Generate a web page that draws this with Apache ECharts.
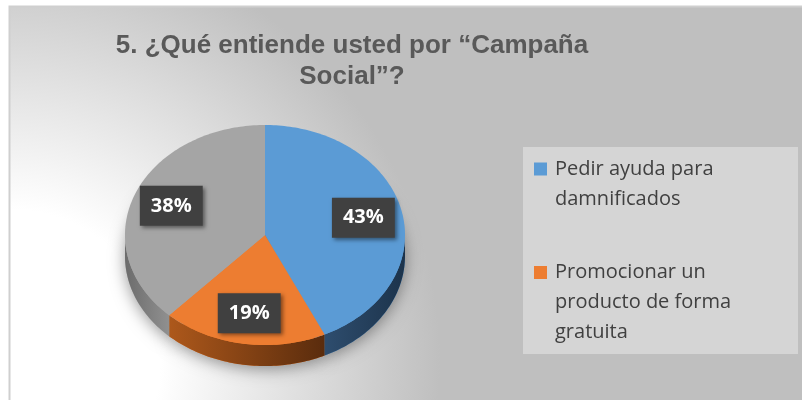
<!DOCTYPE html>
<html lang="es">
<head>
<meta charset="UTF-8">
<title>Campaña Social</title>
<style>
  html, body { margin: 0; padding: 0; background: #fff; }
  #chart { width: 802px; height: 400px; }
</style>
</head>
<body>
<div id="chart"></div>
<script src="https://cdn.jsdelivr.net/npm/echarts@6/dist/echarts.min.js"></script>
<script>
// datos de la encuesta
const categorias = ['Pedir ayuda para damnificados', 'Promocionar un producto de forma gratuita', 'Otros'];
const valores = [43, 19, 38];
// texto de la leyenda con los cortes de línea del original
const textosLeyenda = ['Pedir ayuda para\ndamnificados', 'Promocionar un\nproducto de forma\ngratuita'];
const enLeyenda = [0, 1]; // el tercer elemento no se ve en la leyenda

const coloresTapa = ['#5b9bd5', '#ed7d31', '#a5a5a5'];
const coloresLado = [['#2e4d6e', '#1c334b'], ['#ad581b', '#5a2c0d'], ['#6c6c6c', '#909090']];

// geometría de la tarta "3D": elipse superior + grosor
const CX = 265, CY = 235, RX = 140, RY = 110, GROSOR = 21;

const total = valores.reduce((a, b) => a + b, 0);
const acumulado = valores.map((v, i) => valores.slice(0, i).reduce((a, b) => a + b, 0));

var chart = echarts.init(document.getElementById('chart'));

function punto(a, dy) {
  return [CX + RX * Math.sin(a), CY - RY * Math.cos(a) + (dy || 0)];
}
function arco(a0, a1, dy) {
  const n = Math.max(2, Math.ceil((a1 - a0) / 0.02));
  const pts = [];
  for (let k = 0; k <= n; k++) pts.push(punto(a0 + (a1 - a0) * k / n, dy));
  return pts;
}

function dibujarPorcion(params, api) {
  const i = params.seriesIndex;
  const v = api.value(0), ini = api.value(1);
  const a0 = ini / total * Math.PI * 2;
  const a1 = (ini + v) / total * Math.PI * 2;
  const hijos = [];
  // sombra difusa bajo la porción
  hijos.push({
    type: 'polygon', z2: 0,
    shape: { points: [[CX, CY + GROSOR]].concat(arco(a0, a1, GROSOR)) },
    style: { fill: coloresTapa[i], shadowBlur: 16, shadowColor: 'rgba(0,0,0,0.4)', shadowOffsetY: 3 }
  });
  // lateral visible (mitad delantera)
  const s0 = Math.max(a0, Math.PI / 2), s1 = Math.min(a1, Math.PI * 1.5);
  if (s1 > s0) {
    const lado = arco(s0, s1, 0).concat(arco(s0, s1, GROSOR).reverse());
    hijos.push({
      type: 'polygon', z2: 1,
      shape: { points: lado },
      style: {
        fill: new echarts.graphic.LinearGradient(0, 0, 1, 0, [
          { offset: 0, color: coloresLado[i][0] },
          { offset: 1, color: coloresLado[i][1] }
        ])
      }
    });
  }
  // cara superior
  hijos.push({
    type: 'polygon', z2: 2,
    shape: { points: [[CX, CY]].concat(arco(a0, a1, 0)) },
    style: { fill: api.visual('color') }
  });
  // etiqueta de porcentaje
  const m = (a0 + a1) / 2;
  hijos.push({
    type: 'text', z2: 3,
    x: CX + RX * 0.72 * Math.sin(m),
    y: CY - RY * 0.72 * Math.cos(m),
    style: {
      text: Math.round(v / total * 100) + '%',
      fill: '#fff',
      font: 'bold 20px "Open Sans"',
      align: 'center', verticalAlign: 'middle',
      backgroundColor: '#404040', padding: [10, 11],
      shadowBlur: 4, shadowColor: 'rgba(0,0,0,0.45)', shadowOffsetX: 2, shadowOffsetY: 2
    }
  });
  return { type: 'group', children: hijos };
}

const option = {
  animation: false,
  color: coloresTapa,
  title: {
    text: '5. ¿Qué entiende usted por “Campaña\nSocial”?',
    left: 352, top: 30, padding: 0,
    textAlign: 'center',
    textStyle: { fontFamily: 'Liberation Sans', fontWeight: 'bold', fontSize: 26, lineHeight: 31, color: '#595959' }
  },
  legend: {
    data: enLeyenda.map(i => categorias[i]),
    orient: 'vertical',
    left: 534, top: 124, padding: 0,
    itemWidth: 13, itemHeight: 13, itemGap: -16.5,
    icon: 'rect',
    selectedMode: false,
    // líneas vacías delante para que el icono quede a la altura de la primera línea
    formatter: function (name) {
      const t = textosLeyenda[categorias.indexOf(name)];
      return '\n'.repeat(t.split('\n').length - 1) + t;
    },
    textStyle: { fontFamily: 'Open Sans', fontSize: 20, lineHeight: 30, color: '#404040', padding: [0, 0, 0, 3] }
  },
  graphic: [
    {
      type: 'rect', z: -10, silent: true,
      shape: { x: 9.5, y: 6.5, width: 820, height: 420 },
      style: {
        fill: { type: 'radial', x: 10, y: 360, r: 430, global: true,
          colorStops: [{ offset: 0, color: '#ffffff' }, { offset: 0.35, color: '#ffffff' }, { offset: 1, color: '#bfbfbf' }] },
        stroke: '#cfcfcf', lineWidth: 2
      }
    },
    {
      type: 'rect', z: -5, silent: true,
      shape: { x: 523, y: 147, width: 275, height: 207 },
      style: { fill: '#d5d5d5' }
    }
  ],
  series: categorias.map((nombre, i) => ({
    type: 'custom',
    name: nombre,
    coordinateSystem: 'none',
    silent: true,
    renderItem: dibujarPorcion,
    data: [{ name: nombre, value: [valores[i], acumulado[i]] }]
  }))
};

chart.setOption(option);
</script>
</body>
</html>
